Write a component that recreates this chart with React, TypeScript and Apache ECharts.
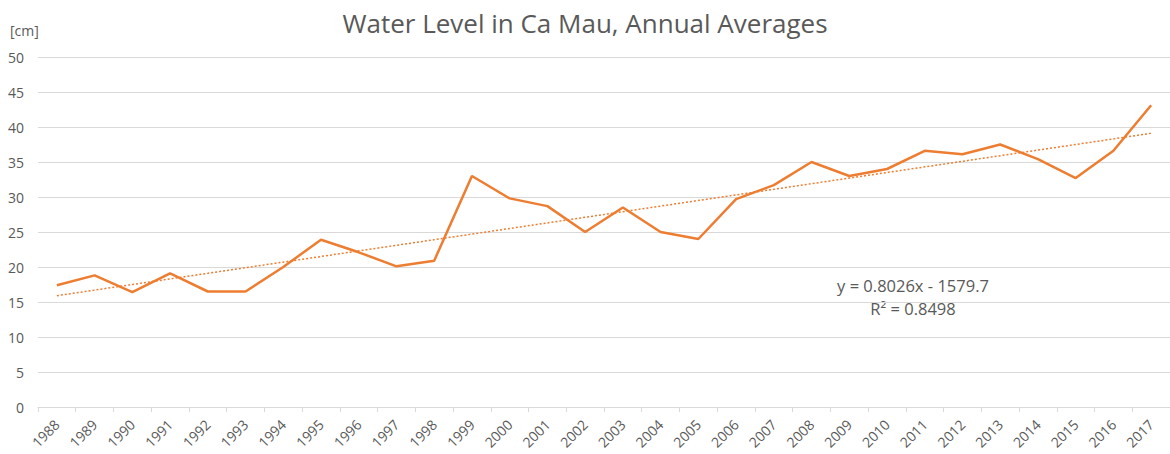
import React, { useEffect, useRef } from "react";
import * as echarts from "echarts";

const years = [
  "1988", "1989", "1990", "1991", "1992", "1993", "1994", "1995", "1996", "1997",
  "1998", "1999", "2000", "2001", "2002", "2003", "2004", "2005", "2006", "2007",
  "2008", "2009", "2010", "2011", "2012", "2013", "2014", "2015", "2016", "2017",
];
const waterLevel = [
  17.4, 18.8, 16.4, 19.1, 16.5, 16.5, 20.0, 23.9, 22.1, 20.1,
  20.9, 33.0, 29.8, 28.7, 25.0, 28.5, 25.0, 24.0, 29.7, 31.7,
  35.0, 33.0, 34.0, 36.6, 36.1, 37.5, 35.4, 32.7, 36.6, 43.1,
];
const trendStart = 15.9;
const trendEnd = 39.1;
const yTicks = { min: 0, max: 50, interval: 5 };
const titleText = "Water Level in Ca Mau, Annual Averages";
const unitText = "[cm]";
const eqLine1 = "y = 0.8026x - 1579.7";
const eqLine2 = "R² = 0.8498";

export default function App() {
  const ref = useRef<HTMLDivElement>(null);
  useEffect(() => {
    document.body.style.margin = "0";
    const chart = echarts.init(ref.current!, null, { renderer: "svg" });
    const trend = years.map((_, i) =>
      i === 0 ? trendStart : i === years.length - 1 ? trendEnd : null
    );
    const font = "Open Sans";
    chart.setOption({
      animation: false,
      textStyle: { fontFamily: font },
      title: {
        text: titleText,
        left: "center",
        top: 5,
        textStyle: { fontFamily: font, fontSize: 26, fontWeight: "normal", color: "#595959" },
      },
      grid: { left: 38, right: -2, top: 57, bottom: 47, containLabel: false },
      xAxis: {
        type: "category",
        data: years,
        boundaryGap: true,
        axisLine: { lineStyle: { color: "#d9d9d9", width: 1 } },
        axisTick: { show: true, length: 5, lineStyle: { color: "#d9d9d9" } },
        axisLabel: {
          rotate: 45,
          interval: 0,
          color: "#595959",
          fontSize: 14,
          fontFamily: font,
          margin: 15,
        },
        splitLine: { show: false },
      },
      yAxis: {
        type: "value",
        min: yTicks.min,
        max: yTicks.max,
        interval: yTicks.interval,
        name: unitText,
        nameLocation: "end",
        nameGap: 20,
        nameTextStyle: { color: "#595959", fontSize: 14, fontFamily: font, align: "left", padding: [0, 0, 0, -28] },
        axisLine: { show: false },
        axisTick: { show: false },
        axisLabel: { color: "#595959", fontSize: 14, fontFamily: font, margin: 14 },
        splitLine: { lineStyle: { color: "#d9d9d9", width: 1 } },
      },
      series: [
        {
          type: "line",
          data: waterLevel,
          symbol: "none",
          lineStyle: { color: "#ED7D31", width: 2.5 },
          itemStyle: { color: "#ED7D31" },
          z: 3,
        },
        {
          type: "line",
          data: trend,
          connectNulls: true,
          symbol: "none",
          lineStyle: { color: "#ED7D31", width: 1.5, type: [2, 2] },
          z: 2,
        },
      ],
      graphic: [
        {
          type: "text",
          x: 913,
          y: 285,
          style: {
            text: eqLine1,
            align: "center",
            verticalAlign: "middle",
            fill: "#595959",
            font: "16.5px 'Open Sans'",
          },
        },
        {
          type: "text",
          x: 913,
          y: 308,
          style: {
            text: eqLine2,
            align: "center",
            verticalAlign: "middle",
            fill: "#595959",
            font: "16.5px 'Open Sans'",
          },
        },
      ],
    });
    return () => chart.dispose();
  }, []);
  return <div ref={ref} style={{ width: 1170, height: 454 }} />;
}
